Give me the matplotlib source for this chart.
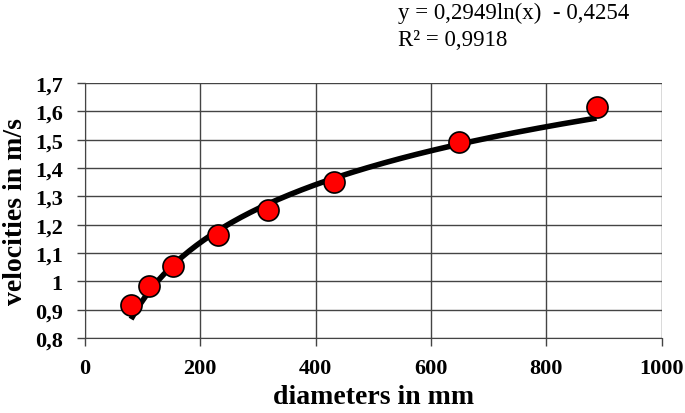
import matplotlib.pyplot as plt
import numpy as np
from matplotlib.ticker import FuncFormatter

diameters = [80, 111, 152, 230, 317, 432, 648, 887]
velocities = [0.915, 0.982, 1.053, 1.163, 1.252, 1.351, 1.492, 1.615]
coef_a = 0.2949
coef_b = -0.4254

plt.rcParams["font.family"] = "serif"
plt.rcParams["font.serif"] = ["Liberation Serif", "Times New Roman", "DejaVu Serif"]

fig = plt.figure(figsize=(6.85, 4.14), dpi=100)
ax = fig.add_axes([0.124, 0.181, 0.842, 0.616])

# log trendline
xs = np.linspace(min(diameters), max(diameters), 200)
ax.plot(xs, coef_a * np.log(xs) + coef_b, color="black", lw=4, zorder=3, solid_capstyle="butt")
ax.scatter(diameters, velocities, s=230, color="#ff0000", edgecolor="black", linewidth=1.2, zorder=4)

ax.set_xlim(0, 1000)
ax.set_ylim(0.8, 1.7)
ax.set_xticks(np.arange(0, 1001, 200))
ax.set_yticks(np.arange(0.8, 1.71, 0.1))

def comma(v, pos):
    s = f"{v:.1f}".replace(".", ",")
    return "1" if s == "1,0" else s

ax.yaxis.set_major_formatter(FuncFormatter(comma))
ax.grid(True, color="#444444", lw=1)
ax.set_axisbelow(True)
for side in ["top", "right"]:
    ax.spines[side].set_visible(False)
for side in ["left", "bottom"]:
    ax.spines[side].set_color("#444444")
ax.tick_params(length=6, width=1, color="#444444", labelsize=16)
ax.tick_params(axis="x", pad=8)
ax.tick_params(axis="y", pad=10)
for lab in ax.get_xticklabels() + ax.get_yticklabels():
    lab.set_fontweight("bold")

ax.set_xlabel("diameters in mm", fontsize=20, fontweight="bold", labelpad=5)
ax.set_ylabel("velocities in m/s", fontsize=20, fontweight="bold", labelpad=5)

fig.text(0.581, 0.992, "y = 0,2949ln(x)  - 0,4254\nR² = 0,9918", fontsize=16.5,
         va="top", ha="left", linespacing=1.35)

plt.savefig("out.png", dpi=100)
